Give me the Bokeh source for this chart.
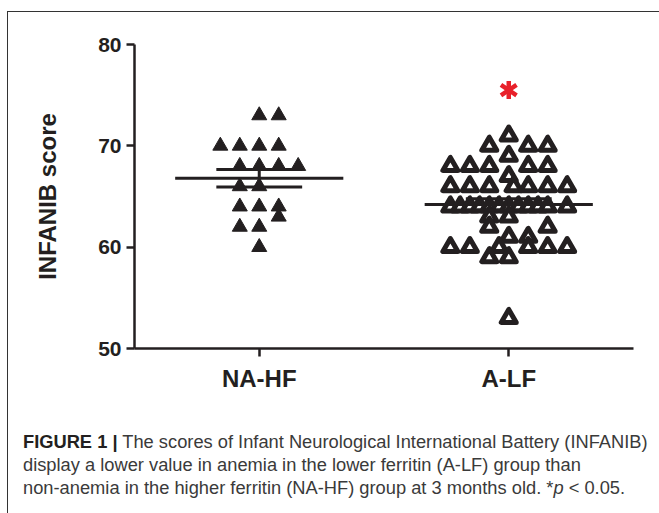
import numpy as np
from bokeh.plotting import figure
from bokeh.layouts import column
from bokeh.models import Range1d, FixedTicker, Div
from bokeh.embed import file_html
from bokeh.resources import INLINE

# ---------------- data ----------------
groups = ["NA-HF", "A-LF"]
group_pos = [1, 2]

nahf_scores = [73, 73, 70, 70, 70, 70, 68, 68, 68, 68, 66, 66, 64, 64, 64, 63, 62, 62, 60]
nahf_cols = [0, 1, -2, -1, 0, 1, -1, 0, 1, 2, -1, 0, -1, 0, 1, 1, -1, 0, 0]

alf_scores = [71,
              70, 70, 70,
              69,
              68, 68, 68, 68, 68,
              67,
              66, 66, 66, 66, 66, 66, 66,
              64, 64, 64, 64, 64, 64, 64, 64, 64, 64, 64, 64,
              63, 63,
              62, 62,
              61, 61,
              60, 60, 60, 60, 60, 60,
              59, 59,
              53]
alf_cols = [0,
            -1, 1, 2,
            0,
            -3, -2, -1, 1, 2,
            0,
            -3, -2, -1, 0.25, 1, 2, 3,
            -3, -2.5, -2, -1.5, -1, -0.5, 0, 0.5, 1, 1.5, 2, 3,
            -1, 0,
            -1, 2,
            0, 1,
            -3, -2, -0.5, 1, 2, 3,
            -1, 0,
            0]

sig_group = 2
sig_y = 75.5
y_ticks = [50, 60, 70, 80]

caption_bold = "FIGURE 1 |"
caption_l1 = "The scores of Infant Neurological International Battery (INFANIB)"
caption_l2 = "display a lower value in anemia in the lower ferritin (A-LF) group than"
caption_l3a = "non-anemia in the higher ferritin (NA-HF) group at 3 months old. *"
caption_l3b = "p"
caption_l3c = "&lt; 0.05."

# ---------------- layout / style ----------------
INK = "#231f20"
RED = "#e8202a"
COL_STEP = 0.078
W, H = 651, 400
FL, FT, FW, FH = 126, 32, 499, 304

p = figure(width=W, height=H, output_backend="svg", toolbar_location=None,
           title=None, x_range=Range1d(0.5, 2.5), y_range=Range1d(50, 80),
           min_border_left=FL, min_border_top=FT,
           min_border_right=W - FL - FW, min_border_bottom=H - FT - FH,
           background_fill_color="white", border_fill_color="white")
p.outline_line_color = None
p.grid.visible = False

for ax in (p.xaxis[0], p.yaxis[0]):
    ax.axis_line_color = INK
    ax.axis_line_width = 2.5
    ax.major_tick_line_color = INK
    ax.major_tick_line_width = 2.5
    ax.major_tick_in = 0
    ax.major_tick_out = 8
    ax.minor_tick_line_color = None
    ax.major_label_text_color = INK
    ax.major_label_text_font = "Liberation Sans"
    ax.major_label_text_font_style = "bold"

p.yaxis.ticker = FixedTicker(ticks=y_ticks)
p.yaxis.major_label_text_font_size = "21px"
p.yaxis.major_label_standoff = 5
p.yaxis.axis_label = "INFANIB score"
p.yaxis.axis_label_text_font = "Liberation Sans"
p.yaxis.axis_label_text_font_style = "bold"
p.yaxis.axis_label_text_font_size = "24px"
p.yaxis.axis_label_text_color = INK
p.yaxis.axis_label_standoff = 34

p.xaxis.ticker = FixedTicker(ticks=group_pos)
p.xaxis.major_label_overrides = {g: lab for g, lab in zip(group_pos, groups)}
p.xaxis.major_label_text_font_size = "24px"
p.xaxis.major_label_standoff = 8

# points
nahf_x = [group_pos[0] + c * COL_STEP for c in nahf_cols]
alf_x = [group_pos[1] + c * COL_STEP for c in alf_cols]
p.scatter(nahf_x, nahf_scores, marker="triangle", size=15,
          fill_color=INK, line_color=INK, line_width=1)
p.scatter(alf_x, alf_scores, marker="triangle", size=15,
          fill_color="white", line_color=INK, line_width=5, line_join="round")

# mean +/- SEM
for gx, vals in zip(group_pos, [nahf_scores, alf_scores]):
    v = np.asarray(vals, dtype=float)
    m = v.mean()
    sem = v.std(ddof=1) / np.sqrt(len(v))
    p.segment(x0=[gx - 0.337], x1=[gx + 0.337], y0=[m], y1=[m],
              line_color=INK, line_width=3)
    p.segment(x0=[gx - 0.172, gx - 0.172], x1=[gx + 0.172, gx + 0.172],
              y0=[m - sem, m + sem], y1=[m - sem, m + sem],
              line_color=INK, line_width=3)
    p.segment(x0=[gx], x1=[gx], y0=[m - sem], y1=[m + sem],
              line_color=INK, line_width=3)

# significance asterisk (6 arms)
for ang in (0, np.pi):
    p.scatter([sig_group], [sig_y], marker="y", size=18, angle=ang,
              line_color=RED, line_width=4.5)

# ---------------- caption ----------------
caption_html = (
    '<div style="font-family:\'Liberation Sans\',Arial,sans-serif;'
    'font-size:18.3px;line-height:23px;color:#3a3a3a;white-space:nowrap;'
    'padding:13px 0 0 10px;">'
    f'<b style="color:{INK}">{caption_bold}</b> {caption_l1}<br>'
    f'{caption_l2}<br>'
    f'{caption_l3a}<i>{caption_l3b}</i> {caption_l3c}'
    '</div>'
)
cap = Div(text=caption_html, width=W, height=101)

layout = column(p, cap, spacing=0,
                styles={"border-top": "1px solid #333333",
                        "border-left": "1px solid #333333",
                        "margin-top": "11px", "margin-left": "7px"})

open("out.html", "w").write(file_html(layout, INLINE))
